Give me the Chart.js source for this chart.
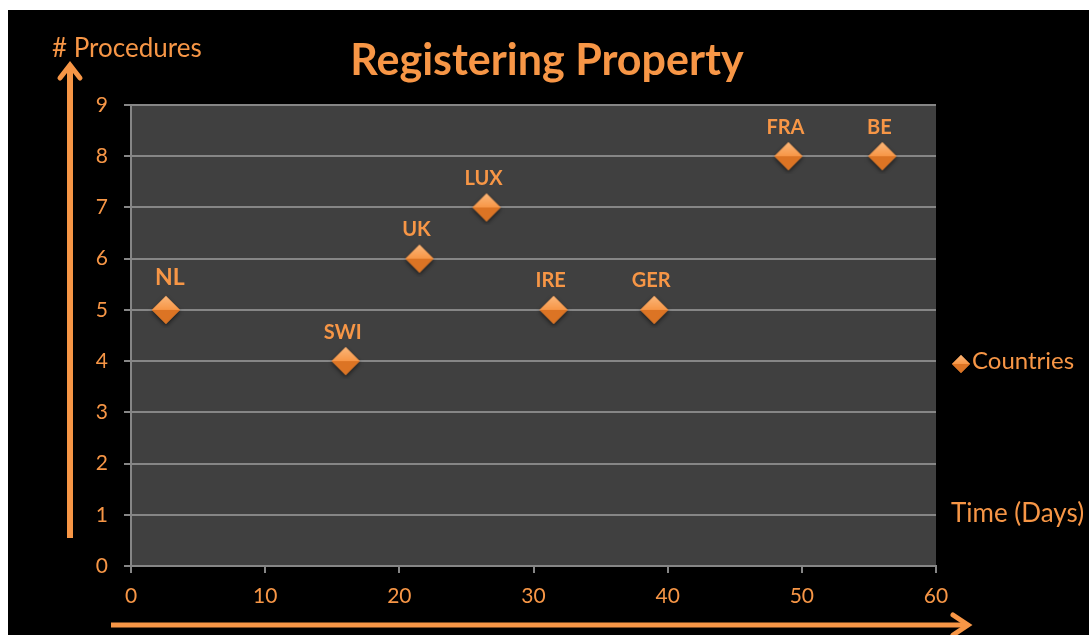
<!DOCTYPE html>
<html>
<head>
<meta charset="utf-8">
<script src="https://cdn.jsdelivr.net/npm/chart.js@4.4.1/dist/chart.umd.min.js"></script>
<style>
  html, body { margin: 0; padding: 0; background: #ffffff; }
  #wrap { width: 1089px; height: 635px; }
</style>
</head>
<body>
<div id="wrap"><canvas id="propertyChart" width="1089" height="635"></canvas></div>
<script>
const countries = ['NL', 'SWI', 'UK', 'LUX', 'IRE', 'GER', 'FRA', 'BE'];
const days = [2.6, 16, 21.5, 26.5, 31.5, 39, 49, 56];
const procedures = [5, 4, 6, 7, 5, 5, 8, 8];
const xTicks = [0, 10, 20, 30, 40, 50, 60];
const yTicks = [0, 1, 2, 3, 4, 5, 6, 7, 8, 9];

const orange = '#f79646';
const font = 'Lato, "Open Sans", sans-serif';

// diamond marker with a bit of shading, like the office chart
function makeDiamond(r) {
  const c = document.createElement('canvas');
  const s = r * 2 + 8;
  c.width = s; c.height = s;
  const g = c.getContext('2d');
  const m = s / 2;
  g.shadowColor = 'rgba(0,0,0,0.6)';
  g.shadowBlur = 4;
  g.shadowOffsetY = 2;
  g.beginPath();
  g.moveTo(m, m - r); g.lineTo(m + r, m); g.lineTo(m, m + r); g.lineTo(m - r, m); g.closePath();
  g.fillStyle = '#e98a3a';
  g.fill();
  g.shadowColor = 'transparent';
  // upper half lighter
  g.beginPath();
  g.moveTo(m, m - r); g.lineTo(m + r, m); g.lineTo(m - r, m); g.closePath();
  const gr = g.createLinearGradient(0, m - r, 0, m);
  gr.addColorStop(0, '#fbb77a');
  gr.addColorStop(1, '#f79646');
  g.fillStyle = gr;
  g.fill();
  // lower half darker
  g.beginPath();
  g.moveTo(m - r, m); g.lineTo(m + r, m); g.lineTo(m, m + r); g.closePath();
  g.fillStyle = '#dc7424';
  g.fill();
  return c;
}

const marker = makeDiamond(14);
const legendMarker = makeDiamond(9);

const decorations = {
  id: 'decorations',
  beforeDraw(chart) {
    const ctx = chart.ctx;
    const a = chart.chartArea;
    ctx.save();
    ctx.fillStyle = '#ffffff';
    ctx.fillRect(0, 0, chart.width, chart.height);
    ctx.fillStyle = '#000000';
    ctx.fillRect(8, 10, chart.width - 8, chart.height - 10);
    ctx.fillStyle = '#404040';
    ctx.fillRect(a.left, a.top, a.right - a.left, a.bottom - a.top);
    ctx.restore();
  },
  afterDraw(chart) {
    const ctx = chart.ctx;
    ctx.save();
    ctx.fillStyle = orange;
    ctx.strokeStyle = orange;

    // title
    ctx.font = 'bold 43px ' + font;
    ctx.textAlign = 'center';
    ctx.textBaseline = 'middle';
    ctx.fillText('Registering Property', 547, 61);

    // axis titles
    ctx.font = '26px ' + font;
    ctx.textAlign = 'left';
    ctx.fillText('# Procedures', 52, 49);
    ctx.fillText('Time (Days)', 951, 514);

    // legend
    ctx.drawImage(legendMarker, 948, 351);
    ctx.font = '24px ' + font;
    ctx.fillText('Countries', 972, 361);

    // vertical arrow
    ctx.lineWidth = 6;
    ctx.lineCap = 'butt';
    ctx.beginPath();
    ctx.moveTo(70, 538); ctx.lineTo(70, 66);
    ctx.stroke();
    ctx.lineWidth = 5;
    ctx.lineCap = 'round';
    ctx.beginPath();
    ctx.moveTo(60, 78); ctx.lineTo(70, 65); ctx.lineTo(80, 78);
    ctx.stroke();

    // horizontal arrow
    ctx.lineWidth = 5;
    ctx.lineCap = 'butt';
    ctx.beginPath();
    ctx.moveTo(111, 625); ctx.lineTo(966, 625);
    ctx.stroke();
    ctx.lineCap = 'round';
    ctx.beginPath();
    ctx.moveTo(953, 615); ctx.lineTo(968, 625); ctx.lineTo(953, 635);
    ctx.stroke();

    // point labels
    const meta = chart.getDatasetMeta(0);
    ctx.textAlign = 'center';
    ctx.textBaseline = 'middle';
    meta.data.forEach((pt, i) => {
      if (i === 0) {
        ctx.font = 'bold 23px ' + font;
        ctx.fillText(countries[i], pt.x + 4, pt.y - 32);
      } else {
        ctx.font = 'bold 20px ' + font;
        ctx.fillText(countries[i], pt.x - 3, pt.y - 29);
      }
    });
    ctx.restore();
  }
};

const ctx = document.getElementById('propertyChart').getContext('2d');

const propertyChart = new Chart(ctx, {
  type: 'scatter',
  data: {
    datasets: [{
      label: 'Countries',
      data: days.map((d, i) => ({ x: d, y: procedures[i] })),
      pointStyle: marker,
      pointRadius: 14,
      backgroundColor: orange,
      borderColor: orange
    }]
  },
  options: {
    responsive: false,
    animation: false,
    layout: {
      padding: { left: 0, top: 105, right: 153, bottom: 0 }
    },
    scales: {
      x: {
        type: 'linear',
        min: 0,
        max: 60,
        afterBuildTicks: (scale) => { scale.ticks = xTicks.map(v => ({ value: v })); },
        afterFit: (scale) => { scale.height = 69; },
        grid: {
          drawOnChartArea: false,
          drawTicks: true,
          tickLength: 7,
          color: '#868686',
          lineWidth: 2
        },
        border: { color: '#868686', width: 2 },
        ticks: {
          color: orange,
          font: { family: font, size: 21 },
          padding: 11
        }
      },
      y: {
        min: 0,
        max: 9,
        afterBuildTicks: (scale) => { scale.ticks = yTicks.map(v => ({ value: v })); },
        afterFit: (scale) => { scale.width = 131; },
        grid: {
          color: '#868686',
          lineWidth: 2,
          tickLength: 7
        },
        border: { color: '#868686', width: 2 },
        ticks: {
          color: orange,
          font: { family: font, size: 21 },
          padding: 16
        }
      }
    },
    plugins: {
      legend: { display: false },
      tooltip: { enabled: false }
    }
  },
  plugins: [decorations]
});
</script>
</body>
</html>
